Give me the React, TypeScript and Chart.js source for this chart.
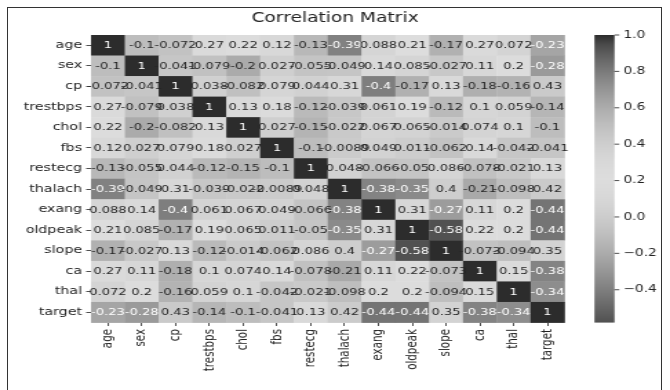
import React, { useEffect, useRef } from "react";
import { Chart, registerables } from "chart.js";

Chart.register(...registerables);

const chartTitle = "Correlation Matrix";
const labels = ["age", "sex", "cp", "trestbps", "chol", "fbs", "restecg", "thalach", "exang", "oldpeak", "slope", "ca", "thal", "target"];

const rowAge = [1, -0.1, -0.072, 0.27, 0.22, 0.12, -0.13, -0.39, 0.088, 0.21, -0.17, 0.27, 0.072, -0.23];
const rowSex = [-0.1, 1, -0.041, -0.079, -0.2, 0.027, -0.055, -0.049, 0.14, 0.085, -0.027, 0.11, 0.2, -0.28];
const rowCp = [-0.072, -0.041, 1, 0.038, -0.082, 0.079, 0.044, 0.31, -0.4, -0.17, 0.13, -0.18, -0.16, 0.43];
const rowTrestbps = [0.27, -0.079, 0.038, 1, 0.13, 0.18, -0.12, -0.039, 0.061, 0.19, -0.12, 0.1, 0.059, -0.14];
const rowChol = [0.22, -0.2, -0.082, 0.13, 1, 0.027, -0.15, -0.022, 0.067, 0.065, -0.014, 0.074, 0.1, -0.1];
const rowFbs = [0.12, 0.027, 0.079, 0.18, 0.027, 1, -0.1, -0.0089, 0.049, 0.011, -0.062, 0.14, -0.042, -0.041];
const rowRestecg = [-0.13, -0.055, 0.044, -0.12, -0.15, -0.1, 1, 0.048, -0.066, -0.05, 0.086, -0.078, -0.021, 0.13];
const rowThalach = [-0.39, -0.049, 0.31, -0.039, -0.022, -0.0089, 0.048, 1, -0.38, -0.35, 0.4, -0.21, -0.098, 0.42];
const rowExang = [0.088, 0.14, -0.4, 0.061, 0.067, 0.049, -0.066, -0.38, 1, 0.31, -0.27, 0.11, 0.2, -0.44];
const rowOldpeak = [0.21, 0.085, -0.17, 0.19, 0.065, 0.011, -0.05, -0.35, 0.31, 1, -0.58, 0.22, 0.2, -0.44];
const rowSlope = [-0.17, -0.027, 0.13, -0.12, -0.014, -0.062, 0.086, 0.4, -0.27, -0.58, 1, -0.073, -0.094, 0.35];
const rowCa = [0.27, 0.11, -0.18, 0.1, 0.074, 0.14, -0.078, -0.21, 0.11, 0.22, -0.073, 1, 0.15, -0.38];
const rowThal = [0.072, 0.2, -0.16, 0.059, 0.1, -0.042, -0.021, -0.098, 0.2, 0.2, -0.094, 0.15, 1, -0.34];
const rowTarget = [-0.23, -0.28, 0.43, -0.14, -0.1, -0.041, 0.13, 0.42, -0.44, -0.44, 0.35, -0.38, -0.34, 1];

const matrix = [rowAge, rowSex, rowCp, rowTrestbps, rowChol, rowFbs, rowRestecg, rowThalach, rowExang, rowOldpeak, rowSlope, rowCa, rowThal, rowTarget];

const colorbarTicks = [1.0, 0.8, 0.6, 0.4, 0.2, 0.0, -0.2, -0.4];
const vMin = -0.58;
const vMax = 1.0;

// matplotlib "coolwarm" colormap samples (33 evenly spaced stops)
const COOLWARM: number[][] = [
  [0.2298057, 0.298717966, 0.753683153],
  [0.26623388, 0.353094838, 0.801466763],
  [0.30386891, 0.406535296, 0.84495867],
  [0.342804478, 0.458757618, 0.883725899],
  [0.38301334, 0.50941904, 0.917387822],
  [0.424369608, 0.558148092, 0.945619588],
  [0.46666708, 0.604562568, 0.968154911],
  [0.509635204, 0.648280772, 0.98478814],
  [0.552953156, 0.688929332, 0.995375608],
  [0.596262162, 0.726149107, 0.999836203],
  [0.639176211, 0.759599947, 0.998151185],
  [0.681291281, 0.788964712, 0.990363227],
  [0.722193294, 0.813952739, 0.976574709],
  [0.761464949, 0.834302879, 0.956945269],
  [0.798691636, 0.849786142, 0.931688648],
  [0.833466556, 0.860207984, 0.901068838],
  [0.865395197, 0.86541021, 0.865395561],
  [0.897787179, 0.848937047, 0.820880546],
  [0.924127593, 0.827384882, 0.774508472],
  [0.944468518, 0.800927443, 0.726736146],
  [0.958852946, 0.769767752, 0.678007945],
  [0.96732803, 0.734132809, 0.628751763],
  [0.969954137, 0.694266682, 0.579375448],
  [0.966811177, 0.650421156, 0.530263762],
  [0.958003065, 0.602842431, 0.481775914],
  [0.943660866, 0.551750968, 0.434243684],
  [0.923944917, 0.49730856, 0.387970225],
  [0.89904617, 0.439559467, 0.343229596],
  [0.869186849, 0.378313092, 0.300267182],
  [0.834620542, 0.312874446, 0.259301199],
  [0.795631745, 0.24128379, 0.220525627],
  [0.752534934, 0.157246067, 0.184115123],
  [0.705673158, 0.01555616, 0.150232812],
];

function cmap(v: number): number[] {
  let t = (v - vMin) / (vMax - vMin);
  t = Math.max(0, Math.min(1, t));
  const f = t * (COOLWARM.length - 1);
  const i = Math.min(COOLWARM.length - 2, Math.floor(f));
  const u = f - i;
  const a = COOLWARM[i], b = COOLWARM[i + 1];
  return [0, 1, 2].map((k) => a[k] + (b[k] - a[k]) * u);
}

function greyOf(v: number): string {
  const [r, g, b] = cmap(v);
  const y = Math.round((0.2126 * r + 0.7152 * g + 0.0722 * b) * 255);
  return `rgb(${y},${y},${y})`;
}

function textColorOf(v: number): string {
  const lin = (c: number) => (c <= 0.03928 ? c / 12.92 : Math.pow((c + 0.055) / 1.055, 2.4));
  const [r, g, b] = cmap(v);
  const lum = 0.2126 * lin(r) + 0.7152 * lin(g) + 0.0722 * lin(b);
  return lum > 0.408 ? "#262626" : "#ffffff";
}

const FONT = "'DejaVu Sans', sans-serif";

export default function App() {
  const ref = useRef<HTMLCanvasElement>(null);

  useEffect(() => {
    const canvas = ref.current;
    if (!canvas) return;

    const heatPlugin = {
      id: "heatCells",
      beforeDatasetsDraw(chart: any) {
        const { ctx, scales, chartArea } = chart;
        const xs = scales.x, ys = scales.y, cb = scales.cb;
        const cw = xs.getPixelForValue(1) - xs.getPixelForValue(0);
        const ch = ys.getPixelForValue(1) - ys.getPixelForValue(0);
        ctx.save();
        matrix.forEach((row, i) => {
          row.forEach((v, j) => {
            const cx = xs.getPixelForValue(j);
            const cy = ys.getPixelForValue(i);
            ctx.fillStyle = greyOf(v);
            ctx.fillRect(cx - cw / 2, cy - ch / 2, cw + 0.4, ch + 0.4);
          });
        });
        ctx.font = `9.5px ${FONT}`;
        ctx.textAlign = "center";
        ctx.textBaseline = "middle";
        matrix.forEach((row, i) => {
          row.forEach((v, j) => {
            const cx = xs.getPixelForValue(j);
            const cy = ys.getPixelForValue(i);
            ctx.fillStyle = textColorOf(v);
            ctx.fillText(String(v), cx, cy + 0.5);
          });
        });

        // colorbar
        const x0 = chartArea.right + 21.8;
        const w = 14.5;
        const top = cb.getPixelForValue(vMax);
        const bottom = cb.getPixelForValue(vMin);
        for (let y = top; y < bottom; y += 1) {
          const val = cb.getValueForPixel(y + 0.5);
          ctx.fillStyle = greyOf(val);
          ctx.fillRect(x0, y, w, Math.min(1.2, bottom - y));
        }
        ctx.strokeStyle = "#222";
        ctx.lineWidth = 0.8;
        ctx.fillStyle = "#222";
        ctx.font = `10px ${FONT}`;
        ctx.textAlign = "left";
        ctx.textBaseline = "middle";
        colorbarTicks.forEach((t) => {
          const y = cb.getPixelForValue(t);
          ctx.beginPath();
          ctx.moveTo(x0 + w, y);
          ctx.lineTo(x0 + w + 3.5, y);
          ctx.stroke();
          const txt = (t < 0 ? "\u2212" : "") + Math.abs(t).toFixed(1);
          ctx.fillText(txt, x0 + w + 6.5, y);
        });
        ctx.restore();
      },
    };

    const points: { x: string; y: string }[] = [];
    matrix.forEach((row, i) => row.forEach((_v, j) => points.push({ x: labels[j], y: labels[i] })));

    const chart = new Chart(canvas, {
      type: "scatter",
      data: {
        datasets: [
          {
            data: points as any,
            pointRadius: 0,
            pointHoverRadius: 0,
          },
        ],
      },
      options: {
        responsive: false,
        animation: false,
        devicePixelRatio: 1,
        layout: { padding: 0 },
        plugins: {
          legend: { display: false },
          tooltip: { enabled: false },
          title: {
            display: true,
            text: chartTitle,
            color: "#222",
            font: { family: FONT, size: 13.5, weight: "normal" },
            padding: { top: 10.5, bottom: 8.3 },
          },
        },
        scales: {
          x: {
            type: "category",
            labels: labels,
            offset: true,
            position: "bottom",
            grid: { display: true, drawOnChartArea: false, drawTicks: true, tickLength: 3.5, color: "#222", lineWidth: 0.8, offset: false },
            border: { display: false },
            ticks: { color: "#222", font: { family: FONT, size: 10.3 }, minRotation: 90, maxRotation: 90, autoSkip: false, padding: 3 },
            afterFit: (s: any) => { s.height = 67.5; },
          },
          y: {
            type: "category",
            labels: labels,
            offset: true,
            position: "left",
            grid: { display: true, drawOnChartArea: false, drawTicks: true, tickLength: 3.5, color: "#222", lineWidth: 0.8, offset: false },
            border: { display: false },
            ticks: { color: "#222", font: { family: FONT, size: 10.3 }, autoSkip: false, padding: 3 },
            afterFit: (s: any) => { s.width = 66; },
          },
          cb: {
            type: "linear",
            position: "right",
            min: vMin,
            max: vMax,
            grid: { display: false },
            border: { display: false },
            ticks: { display: false },
            afterFit: (s: any) => { s.width = 76.6; },
          },
        },
      } as any,
      plugins: [heatPlugin],
    });

    return () => chart.destroy();
  }, []);

  return (
    <div style={{ position: "absolute", left: 0, top: 0, width: 670, height: 390, background: "#fff", overflow: "hidden" }}>
      <canvas ref={ref} width={486} height={390} style={{ width: "670px", height: "390px", display: "block" }} />
      <div style={{ position: "absolute", left: 7, top: 7, width: 655, height: 390, borderTop: "1px solid #333", borderLeft: "1px solid #333", borderRight: "1px solid #333", boxSizing: "border-box" }} />
    </div>
  );
}
